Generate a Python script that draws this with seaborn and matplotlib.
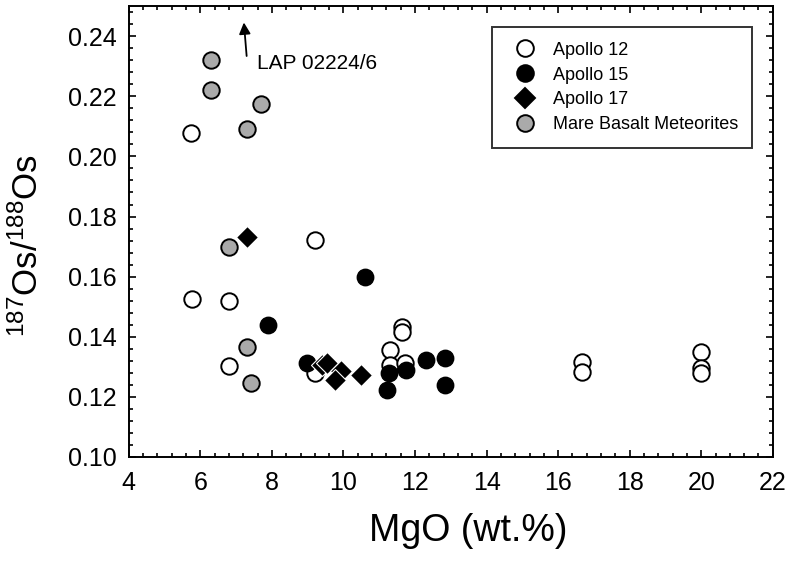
import pandas as pd
import matplotlib.pyplot as plt
import seaborn as sns
from matplotlib.lines import Line2D
from matplotlib.ticker import AutoMinorLocator

sns.set_theme(style="ticks")
plt.rcParams['font.family'] = ['Liberation Sans', 'DejaVu Sans']
plt.rcParams['mathtext.fontset'] = 'custom'
plt.rcParams['mathtext.rm'] = 'Liberation Sans'
plt.rcParams['mathtext.it'] = 'Liberation Sans'
plt.rcParams['axes.linewidth'] = 1.4
plt.rcParams['text.color'] = 'black'
plt.rcParams['axes.labelcolor'] = 'black'

# MgO (wt.%) and 187Os/188Os
apollo12_mgo = [5.73, 5.76, 6.79, 6.79, 9.20, 9.20, 11.63, 11.63, 11.29, 11.29, 11.71,
                16.68, 16.68, 20.0, 20.0, 20.0]
apollo12_os = [0.2077, 0.1525, 0.1519, 0.1303, 0.1722, 0.1279, 0.1432, 0.1416, 0.1356,
               0.1306, 0.1313, 0.1316, 0.1283, 0.1349, 0.1296, 0.1279]

apollo15_mgo = [7.88, 10.59, 8.97, 11.26, 11.23, 11.74, 12.30, 12.83, 12.83]
apollo15_os = [0.1439, 0.1599, 0.1313, 0.1279, 0.1223, 0.1289, 0.1323, 0.1329, 0.1239]

apollo17_mgo = [7.30, 9.39, 9.53, 9.92, 9.75, 10.48]
apollo17_os = [0.1732, 0.1306, 0.1313, 0.1286, 0.1256, 0.1273]

meteorite_mgo = [6.29, 6.29, 7.69, 7.30, 6.79, 7.30, 7.41]
meteorite_os = [0.2320, 0.2220, 0.2174, 0.2091, 0.1698, 0.1366, 0.1246]

groups = ['Apollo 12', 'Apollo 15', 'Apollo 17', 'Mare Basalt Meteorites']
x_ticks = [4, 6, 8, 10, 12, 14, 16, 18, 20, 22]
y_ticks = [0.10, 0.12, 0.14, 0.16, 0.18, 0.20, 0.22, 0.24]

df = pd.concat([
    pd.DataFrame({'MgO': apollo12_mgo, 'Os': apollo12_os, 'group': groups[0]}),
    pd.DataFrame({'MgO': apollo15_mgo, 'Os': apollo15_os, 'group': groups[1]}),
    pd.DataFrame({'MgO': apollo17_mgo, 'Os': apollo17_os, 'group': groups[2]}),
    pd.DataFrame({'MgO': meteorite_mgo, 'Os': meteorite_os, 'group': groups[3]}),
])

styles = {
    'Apollo 12': dict(marker='o', color='white', edgecolor='black', s=140, linewidth=1.4),
    'Apollo 15': dict(marker='o', color='black', edgecolor='black', s=140, linewidth=1.0),
    'Apollo 17': dict(marker='D', color='black', edgecolor='white', s=125, linewidth=0.8),
    'Mare Basalt Meteorites': dict(marker='o', color='#aaaaaa', edgecolor='black', s=140, linewidth=1.4),
}

fig = plt.figure(figsize=(8, 5.62), dpi=100)
ax = fig.add_axes([0.161, 0.187, 0.805, 0.802])

for i, g in enumerate(groups):
    sub = df[df['group'] == g]
    sns.scatterplot(data=sub, x='MgO', y='Os', ax=ax, legend=False, zorder=3 + i, **styles[g])

ax.set_xlim(4, 22)
ax.set_ylim(0.10, 0.25)
ax.set_xticks(x_ticks)
ax.set_yticks(y_ticks)
ax.set_yticklabels([f'{v:.2f}' for v in y_ticks])
ax.xaxis.set_minor_locator(AutoMinorLocator(5))
ax.yaxis.set_minor_locator(AutoMinorLocator(5))
ax.tick_params(which='both', direction='in', top=True, right=True, colors='black', width=1.2)
ax.tick_params(which='major', length=5, labelsize=18)
ax.tick_params(axis='x', which='major', pad=10)
ax.tick_params(axis='y', which='major', pad=9)
ax.tick_params(which='minor', length=3)
for sp in ax.spines.values():
    sp.set_color('black')

ax.set_xlabel('MgO (wt.%)', fontsize=27, color='black')
ax.xaxis.set_label_coords(0.527, -0.125)
ax.set_ylabel(r'$^{187}\mathrm{Os/}^{188}\mathrm{Os}$', fontsize=25, color='black')
ax.yaxis.set_label_coords(-0.13, 0.47)

# arrow pointing to off-scale sample
ax.annotate('', xy=(7.21, 0.2455), xytext=(7.30, 0.2325),
            arrowprops=dict(arrowstyle='-|>', color='black', lw=1.3, mutation_scale=17))
ax.text(7.58, 0.2310, 'LAP 02224/6', fontsize=15, va='center', ha='left', color='black')

handles = [Line2D([], [], linestyle='none', marker=styles[g]['marker'],
                  markerfacecolor=styles[g]['color'], markeredgecolor='black',
                  markersize=12 if styles[g]['marker'] == 'o' else 10,
                  markeredgewidth=1.4) for g in groups]
leg = ax.legend(handles, groups, loc='upper left', bbox_to_anchor=(0.5637, 0.687, 0.4037, 0.266),
                mode='expand', borderaxespad=0, fontsize=13, frameon=True, fancybox=False,
                borderpad=0.8, labelspacing=0.43, handlelength=2.1, handletextpad=0.5)
leg.get_frame().set_edgecolor('black')
leg.get_frame().set_linewidth(1.4)
for t in leg.get_texts():
    t.set_color('black')

fig.savefig('out.png', dpi=100)
